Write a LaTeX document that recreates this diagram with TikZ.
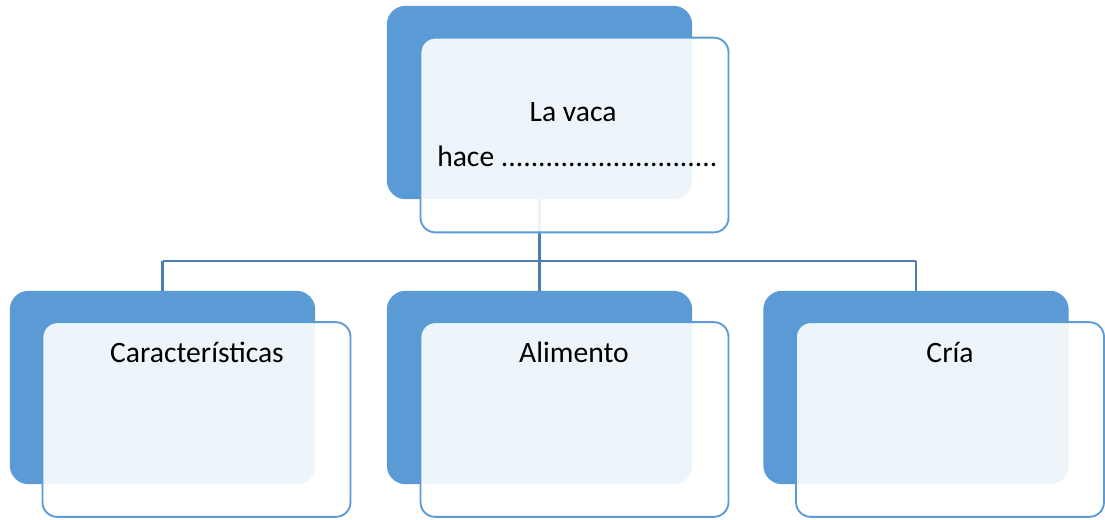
\documentclass[tikz,border=0pt]{standalone}
\usepackage{fontspec}
\setmainfont{Carlito}
\definecolor{darkbox}{HTML}{5B9BD5}
\definecolor{connclr}{HTML}{4A7EB5}
\begin{document}
\begin{tikzpicture}[x=0.75pt,y=-0.75pt,
  darkstyle/.style={fill=darkbox, draw=none, rounded corners=14pt, inner sep=0pt,
    minimum width=229pt, minimum height=145pt},
  lightstyle/.style={fill=white, fill opacity=0.9, draw=darkbox, line width=1.4pt,
    rounded corners=11pt, inner sep=0pt, minimum width=231pt, minimum height=146pt},
  conn/.style={draw=connclr, line width=1.9pt},
  lbl/.style={font=\fontsize{22.2}{26}\selectfont, inner sep=0pt, text=black}]
\useasboundingbox (0,0) rectangle (1105,519);
% dark (back) boxes
\node[darkstyle] (topdark) at (539.5,102.5) {};
\node[darkstyle] (leftdark) at (162.5,387.5) {};
\node[darkstyle] (middark) at (539.5,387.5) {};
\node[darkstyle] (rightdark) at (916,387.5) {};
% connectors
\coordinate (bar) at (539.5,261);
\draw[conn] (topdark.south) -- (topdark.south |- bar);
\draw[conn] (leftdark.north |- bar) -- (rightdark.north |- bar);
\draw[conn] (leftdark.north |- bar) -- (leftdark.north);
\draw[conn] (middark.north |- bar) -- (middark.north);
\draw[conn] (rightdark.north |- bar) -- (rightdark.north);
% light (front) boxes
\node[lightstyle] (toplight) at (574.5,135) {};
\node[lightstyle] (leftlight) at (196.5,419.5) {};
\node[lightstyle] (midlight) at (574.5,419.5) {};
\node[lightstyle] (rightlight) at (950,419.5) {};
% texts
\node[lbl, anchor=base] (t1) at (573,121) {La vaca};
\node[lbl, anchor=base west] (t2) at (437,166) {hace .............................};
\node[lbl, anchor=base] (t3) at (197,362) {Características};
\node[lbl, anchor=base] (t4) at (574,362) {Alimento};
\node[lbl, anchor=base] (t5) at (950,362) {Cría};
\end{tikzpicture}
\end{document}
